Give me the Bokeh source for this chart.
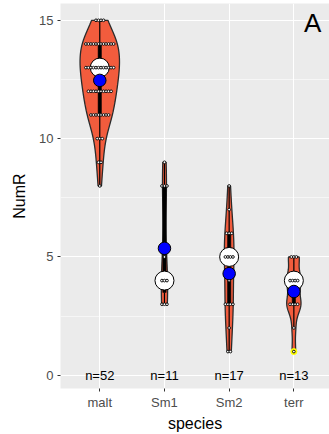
import numpy as np
from bokeh.plotting import figure
from bokeh.models import Range1d, FixedTicker, ColumnDataSource, Label
from bokeh.embed import file_html
from bokeh.resources import INLINE

FONT = "Liberation Sans"

species = ["malt", "Sm1", "Sm2", "terr"]

# NumR observations per species, stored as distinct values and how often each occurs
malt_levels = [8, 9, 10, 11, 12, 13, 14, 15]
malt_counts = [1, 2, 3, 8, 10, 12, 12, 4]
sm1_levels = [3, 4, 5, 8, 9]
sm1_counts = [3, 3, 1, 3, 1]
sm2_levels = [1, 2, 3, 4, 5, 6, 7, 8]
sm2_counts = [2, 1, 4, 1, 4, 3, 1, 1]
terr_levels = [1, 2, 3, 4, 5]
terr_counts = [1, 1, 4, 4, 3]

levels = [malt_levels, sm1_levels, sm2_levels, terr_levels]
counts = [malt_counts, sm1_counts, sm2_counts, terr_counts]
groups = [np.repeat(lv, ct).astype(float) for lv, ct in zip(levels, counts)]

VIOLIN_FILL = "#F25C3D"
VIOLIN_LINE = "#2B2B2B"


def bw_nrd0(x):
    sd = x.std(ddof=1)
    q75, q25 = np.percentile(x, [75, 25])
    lo = min(sd, (q75 - q25) / 1.34)
    if lo == 0:
        lo = sd if sd > 0 else 1.0
    return 0.9 * lo * len(x) ** -0.2


def kde(x, grid):
    bw = bw_nrd0(x)
    z = (grid[:, None] - x[None, :]) / bw
    return np.exp(-0.5 * z ** 2).sum(axis=1) / (len(x) * bw * np.sqrt(2 * np.pi))


# trimmed gaussian densities, scaled by count like geom_violin(scale = "count")
grids = [np.linspace(g.min(), g.max(), 512) for g in groups]
dens = [kde(g, gr) for g, gr in zip(groups, grids)]
max_d = max(d.max() for d in dens)
max_n = max(len(g) for g in groups)
vwidth = 0.9

p = figure(width=329, height=434, output_backend="svg", toolbar_location=None,
           x_range=Range1d(0.393, 4.551), y_range=Range1d(-0.56, 15.71),
           min_border_left=60, min_border_right=0, min_border_top=3,
           min_border_bottom=45)
p.background_fill_color = "#EBEBEB"
p.border_fill_color = "white"
p.outline_line_color = None

# panel grid
p.xgrid.ticker = FixedTicker(ticks=[1, 2, 3, 4])
p.ygrid.ticker = FixedTicker(ticks=[0, 5, 10, 15], minor_ticks=[2.5, 7.5, 12.5])
for g in (p.xgrid, p.ygrid):
    g.grid_line_color = "white"
    g.grid_line_width = 1.1
p.ygrid.minor_grid_line_color = "white"
p.ygrid.minor_grid_line_width = 0.55

# axes
p.xaxis.ticker = FixedTicker(ticks=[1, 2, 3, 4])
p.xaxis.major_label_overrides = {i + 1: s for i, s in enumerate(species)}
p.yaxis.ticker = FixedTicker(ticks=[0, 5, 10, 15])
for ax in (p.xaxis, p.yaxis):
    ax.axis_line_color = None
    ax.major_tick_line_color = "#333333"
    ax.major_tick_out = 3
    ax.major_tick_in = 0
    ax.minor_tick_out = 0
    ax.minor_tick_in = 0
    ax.major_label_text_font = FONT
    ax.major_label_text_font_size = "13px"
    ax.major_label_text_color = "#4D4D4D"
    ax.axis_label_text_font = FONT
    ax.axis_label_text_font_size = "16px"
    ax.axis_label_text_font_style = "normal"
    ax.axis_label_text_color = "black"
p.xaxis.axis_label = "species"
p.yaxis.axis_label = "NumR"
p.xaxis.major_label_standoff = 3
p.yaxis.major_label_standoff = 4
p.xaxis.axis_label_standoff = 2
p.yaxis.axis_label_standoff = 8

# violins
vx, vy = [], []
for i, (gr, d) in enumerate(zip(grids, dens)):
    xc = i + 1
    hw = d / max_d * len(groups[i]) / max_n * vwidth / 2
    vx.append(np.concatenate([xc - hw, (xc + hw)[::-1]]))
    vy.append(np.concatenate([gr, gr[::-1]]))
p.patches(vx, vy, fill_color=VIOLIN_FILL, line_color=VIOLIN_LINE, line_width=1.3)

# narrow black boxplots
bw_box = 0.026
box_l, box_r, box_b, box_t = [], [], [], []
wx0, wy0, wx1, wy1 = [], [], [], []
out_x, out_y = [], []
medians, means = [], []
for i, g in enumerate(groups):
    xc = i + 1
    q1, med, q3 = np.percentile(g, [25, 50, 75])
    iqr = q3 - q1
    inside = g[(g >= q1 - 1.5 * iqr) & (g <= q3 + 1.5 * iqr)]
    lo_w, hi_w = inside.min(), inside.max()
    box_l.append(xc - bw_box)
    box_r.append(xc + bw_box)
    box_b.append(q1)
    box_t.append(q3)
    wx0 += [xc, xc]
    wx1 += [xc, xc]
    wy0 += [lo_w, q3]
    wy1 += [q1, hi_w]
    for v in g[(g < lo_w) | (g > hi_w)]:
        out_x.append(xc)
        out_y.append(v)
    medians.append(med)
    means.append(g.mean())

p.segment(wx0, wy0, wx1, wy1, line_color="black", line_width=1.2)
p.quad(left=box_l, right=box_r, bottom=box_b, top=box_t,
       fill_color="black", line_color="black", line_width=0.5)
p.scatter(out_x, out_y, size=6, fill_color="yellow", line_color="yellow")

xs = [1, 2, 3, 4]
# median marker
p.scatter(xs, medians, size=19, fill_color="white", line_color="black", line_width=1)

# centred dot stacks
step = 0.039
dx, dy = [], []
for i, (lv, ct) in enumerate(zip(levels, counts)):
    for v, k in zip(lv, ct):
        for j in range(k):
            dx.append(i + 1 + (j - (k - 1) / 2) * step)
            dy.append(v)
p.scatter(dx, dy, size=2.7, fill_color="white", line_color="black", line_width=0.9)

# mean marker
p.scatter(xs, means, size=12.5, fill_color="#0000FF", line_color="black", line_width=1)

# group sizes along the bottom
n_labels = ["n=%d" % len(g) for g in groups]
src = ColumnDataSource(dict(x=xs, y=[0] * 4, t=n_labels))
p.text("x", "y", text="t", source=src, text_align="center", text_baseline="middle",
       text_font_size="13px", text_color="black", text_font={"value": FONT})

p.add_layout(Label(x=4.29, y=14.9, text="A", text_align="center",
                   text_baseline="middle", text_font_size="26px",
                   text_font=FONT, text_color="black"))

open("out.html", "w").write(file_html(p, INLINE))
